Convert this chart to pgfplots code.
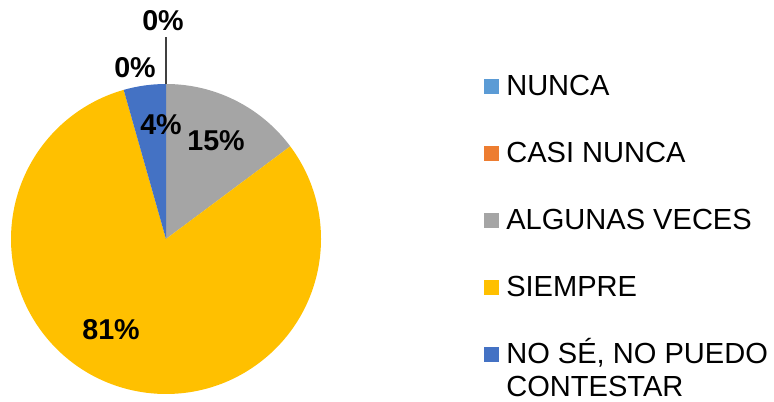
\documentclass[border=0pt]{standalone}
\usepackage{pgfplots}
\usepackage{pgfplotstable}
\pgfplotsset{compat=1.18}
\usepackage{fontspec}
\setmainfont{Liberation Sans}
\definecolor{cNunca}{HTML}{5B9BD5}
\definecolor{cCasi}{HTML}{ED7D31}
\definecolor{cAlg}{HTML}{A5A5A5}
\definecolor{cSiem}{HTML}{FFC000}
\definecolor{cNose}{HTML}{4472C4}
\pgfplotstableread[col sep=semicolon]{
category;value;color
NUNCA;0;cNunca
CASI NUNCA;0;cCasi
ALGUNAS VECES;14.8;cAlg
SIEMPRE;80.8;cSiem
NO SÉ, NO PUEDO CONTESTAR;4.4;cNose
}\piedata
\begin{document}
\begin{tikzpicture}
\begin{axis}[
  scale only axis, width=580.5pt, height=301.5pt,
  xmin=0, xmax=774, ymin=0, ymax=402,
  hide axis, clip=false,
]
\path[use as bounding box] (axis cs:0,0) rectangle (axis cs:774,402);
\def\curang{90}
\pgfplotsforeachungrouped \i in {0,...,4}{%
  \pgfplotstablegetelem{\i}{value}\of\piedata \let\val\pgfplotsretval
  \pgfplotstablegetelem{\i}{color}\of\piedata \let\col\pgfplotsretval
  \pgfmathsetmacro\endang{\curang-3.6*\val}%
  \edef\temp{\noexpand\fill[\col] (axis cs:166,163) -- ++(\curang:116.25pt) arc[start angle=\curang, end angle=\endang, radius=116.25pt] -- cycle;}%
  \temp
  \global\let\curang\endang
}
% leader line
\draw[black!75, line width=0.8pt] (axis cs:166,318) -- (axis cs:166,365);
% data labels
\begin{scope}[every node/.style={font=\fontsize{21.5}{25}\selectfont\bfseries, inner sep=0pt}]
\node at (axis cs:163,381) {0\%};
\node at (axis cs:135,334) {0\%};
\node at (axis cs:161,277) {4\%};
\node at (axis cs:216,261) {15\%};
\node at (axis cs:111,72) {81\%};
\end{scope}
% legend
\begin{scope}[every node/.style={font=\fontsize{21.8}{25}\selectfont, inner sep=0pt, anchor=base west}]
\fill[cNunca] (axis cs:484,308) rectangle ++(11.25pt,11.25pt);
\node at (axis cs:506,306) {NUNCA};
\fill[cCasi] (axis cs:484,241) rectangle ++(11.25pt,11.25pt);
\node at (axis cs:506,239) {CASI NUNCA};
\fill[cAlg] (axis cs:484,174) rectangle ++(11.25pt,11.25pt);
\node at (axis cs:506,172) {ALGUNAS VECES};
\fill[cSiem] (axis cs:484,107) rectangle ++(11.25pt,11.25pt);
\node at (axis cs:506,105) {SIEMPRE};
\fill[cNose] (axis cs:484,40) rectangle ++(11.25pt,11.25pt);
\node at (axis cs:506,38) {NO SÉ, NO PUEDO};
\node at (axis cs:506,5) {CONTESTAR};
\end{scope}
\end{axis}
\end{tikzpicture}
\end{document}
